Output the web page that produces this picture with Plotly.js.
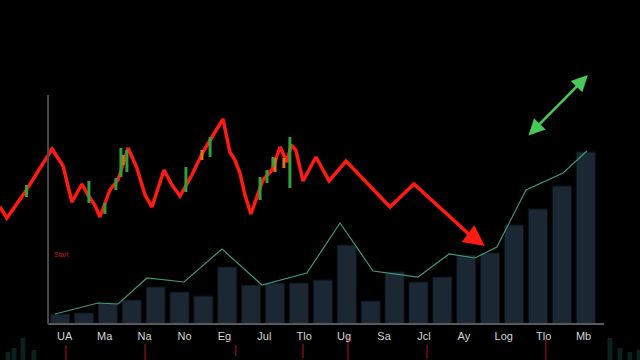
<!DOCTYPE html>
<html><head><meta charset="utf-8">
<script src="https://cdn.plot.ly/plotly-3.0.1.min.js"></script>
<style>html,body{margin:0;padding:0;background:#000;}#chart{width:640px;height:360px;}</style>
</head><body><div id="chart"></div>
<script>
// Tick labels (evenly spaced along the axis)
const tickLabels = ["UA","Ma","Na","No","Eg","Jul","Tlo","Ug","Sa","Jcl","Ay","Log","Tlo","Mb"];
const tickStart = 0.2, tickStep = 1.67;

// Volume bars (one per period, index 0..22)
const barValues = [5,5.5,10.5,12,18.5,16,14,28.5,19.5,20.5,20.5,22,39.5,11.5,26,21,23.5,34.5,35.5,49.5,57.5,69,86];

// Thin green trend line
const trendX = [-0.21,1.59,2.43,3.64,5.19,6.78,8.45,10.33,11.72,13.10,14.98,16.28,17.36,18.28,19.50,21.05,22.05];
const trendY = [5,10.5,10,23,21,37.5,19.5,25.5,50.5,26.5,23.5,35,33,38.5,67,75.5,86.5];

// Red price line
const priceX = [-2.51,-2.22,-1.46,-0.33,0.13,0.50,0.92,1.17,1.46,1.67,2.09,2.43,2.85,3.22,3.56,3.85,4.35,4.69,5.02,5.52,5.98,6.82,7.11,7.32,7.53,7.74,7.99,8.49,8.87,9.21,9.50,9.67,9.87,10.17,10.71,11.26,11.97,13.81,14.81,17.15];
const priceY = [58.5,53,66,87.5,79,61,70,64.5,59.5,53.5,67,72,88,78,64.5,58.5,77,69.5,64,74.5,86,102.5,86,82,75.5,64.5,55,72,77,88.5,81,89.5,87,71.5,83.5,71.5,81.5,58.5,70,44.5];
const priceTip = [17.78, 39];

// Green candle wicks
const upX = [-1.40,1.21,1.88,2.34,2.55,2.80,5.27,6.28,8.37,8.66,8.91,9.62];
const upLow = [63.5,60.5,55,67,73.5,76,66,83.5,62,70.5,78.5,68];
const upHigh = [69.5,71.5,60.5,73,88,87,78.5,93.5,73.5,77,83.5,93.5];
// Orange candle bits
const midX = [2.64,5.94,9.00,9.37];
const midLow = [79.5,82,76,78];
const midHigh = [84.5,87,83,83];

// Small red marks below the axis
const markX = [0.25,3.56,7.36,10.17,12.05,15.36,20.33];
const markLow = [-18,-18,-16,-17,-18,-17,-18];
const markHigh = [-10.5,-10,-10.5,-10,-6,-10.5,-8];

// Faint bars at the bottom corners
const faintX = [-2.18,-1.92,-1.55,-1.09,23.01,23.43,23.85,24.23];
const faintH = [4,6,11,5,11,6,4,5];

// Double arrow (green)
const arrowFrom = [19.54, 93.5], arrowTo = [22.09, 124.5];

function segs(xs, lo, hi){
  const x=[], y=[];
  xs.forEach((v,i)=>{x.push(v,v,null); y.push(lo[i],hi[i],null);});
  return {x,y};
}
const up = segs(upX, upLow, upHigh);
const mid = segs(midX, midLow, midHigh);
const mk = segs(markX, markLow, markHigh);

const traces = [
  {type:'bar', x: faintX, y: faintH, base:-18, width:0.2,
   marker:{color:'#0b211d', line:{width:0}}},
  {type:'bar', x: barValues.map((_,i)=>i), y: barValues, width:0.8,
   marker:{color:'#1b2834', line:{color:'#0b1117', width:1}}},
  {type:'scatter', mode:'lines', x: trendX, y: trendY, line:{color:'#3f9a72', width:1.2}},
  {type:'scatter', mode:'lines', x: priceX, y: priceY, line:{color:'#ff1a12', width:3.5, join:'miter'}},
  {type:'scatter', mode:'lines', x: mid.x, y: mid.y, line:{color:'#d9741c', width:3}},
  {type:'scatter', mode:'lines', x: up.x, y: up.y, line:{color:'#2fa23c', width:3}},
  {type:'scatter', mode:'lines', x: mk.x, y: mk.y, line:{color:'#b3141a', width:1}},
];

const layout = {
  width:640, height:360,
  paper_bgcolor:'#000', plot_bgcolor:'#000',
  margin:{l:0,r:0,t:0,b:0},
  showlegend:false, barmode:'overlay',
  xaxis:{range:[-2.51,24.27], anchor:'free', position:0.1,
    tickmode:'array', tickvals: tickLabels.map((_,k)=>tickStart+k*tickStep), ticktext: tickLabels,
    showgrid:false, zeroline:false, showline:false, ticks:'', ticklabelstandoff:4,
    tickfont:{family:'Liberation Sans, Arial', size:11, color:'#d6d6d6'}},
  yaxis:{range:[-18,162], showgrid:false, zeroline:false, showline:false, showticklabels:false},
  shapes:[
    {type:'line', xref:'x', yref:'y', x0:-0.5, x1:22.76, y0:0, y1:0, line:{color:'#5a5a5a', width:2}},
    {type:'line', xref:'x', yref:'y', x0:-0.5, x1:-0.5, y0:0, y1:114.5, line:{color:'#4a4a4a', width:2}}
  ],
  annotations:[
    {x:priceTip[0], y:priceTip[1], ax:priceX[priceX.length-1], ay:priceY[priceY.length-1],
     xref:'x', yref:'y', axref:'x', ayref:'y', text:'', showarrow:true,
     arrowhead:2, arrowsize:1.2, arrowwidth:3.5, arrowcolor:'#ff1a12'},
    {x:arrowTo[0], y:arrowTo[1], ax:arrowFrom[0], ay:arrowFrom[1],
     xref:'x', yref:'y', axref:'x', ayref:'y', text:'', showarrow:true,
     arrowhead:2, startarrowhead:2, arrowside:'end+start', arrowsize:1.3, startarrowsize:1.3,
     arrowwidth:2.5, arrowcolor:'#48c858'},
    {x:0.05, y:35, xref:'x', yref:'y', text:'Start', showarrow:false,
     font:{family:'Liberation Sans, Arial', size:7, color:'#c0161b'}}
  ]
};
Plotly.newPlot('chart', traces, layout, {displayModeBar:false, staticPlot:true});
</script></body></html>
